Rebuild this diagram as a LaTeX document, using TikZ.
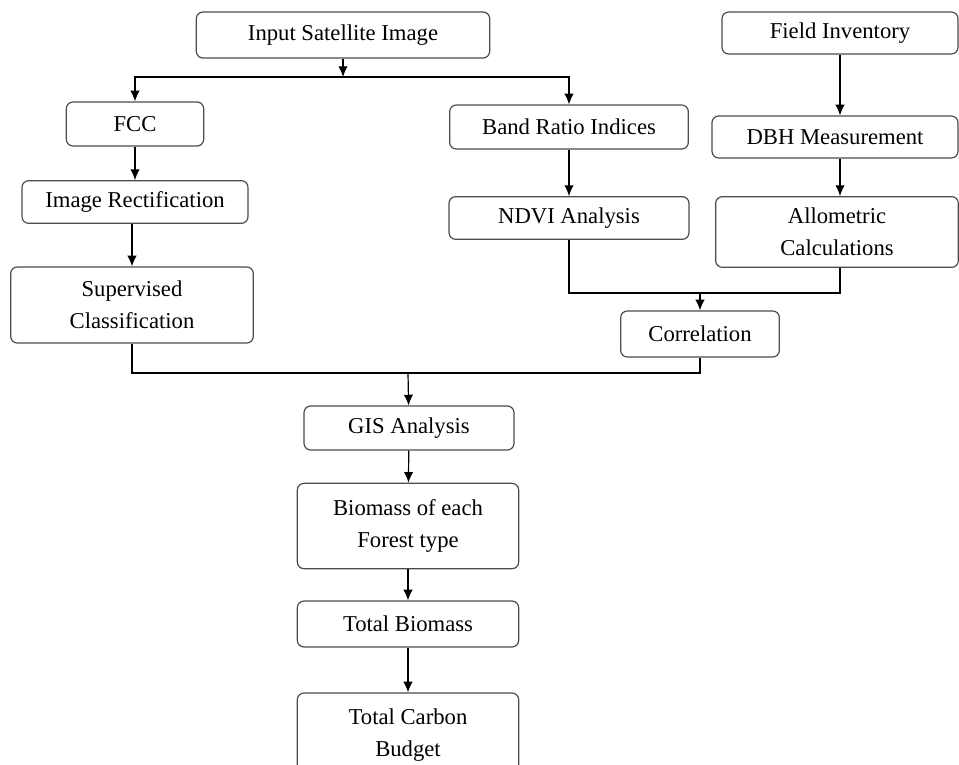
\documentclass[tikz,border=0pt]{standalone}
\usepackage{fontspec}
\setmainfont{Liberation Serif}
\usetikzlibrary{arrows,arrows.meta}
\usetikzlibrary{positioning}

\begin{document}
\begin{tikzpicture}
	[x=0.75pt,y=-0.75pt,every node/.style={rectangle,rounded corners=5pt,draw=black!70,line width=0.9pt,align=center,inner sep=0pt,font=\fontsize{17}{24}\selectfont},
	flow/.style={-{Latex[length=8pt,width=7pt]},line width=0.9pt},
	link/.style={line width=0.9pt}]
	\useasboundingbox (0,0) rectangle (959,764);
	% left column and top
	\node[minimum width=220pt,minimum height=34.5pt] (inp) at (343,35) {Input Satellite Image};
	\node[minimum width=103pt,minimum height=33pt] (fcc) at (135,124) {FCC};
	\node[minimum width=169.5pt,minimum height=32pt] (rect) at (135,202) {Image Rectification};
	\node[minimum width=182pt,minimum height=57pt] (sup) at (132,305) {Supervised\\Classification};
	% middle column
	\node[minimum width=179pt,minimum height=33pt] (band) at (569,127) {Band Ratio Indices};
	\node[minimum width=180pt,minimum height=32pt] (ndvi) at (569,218) {NDVI Analysis};
	% field data
	\node[minimum width=177pt,minimum height=31.5pt] (field) at (840,33) {Field Inventory};
	\node[minimum width=184.5pt,minimum height=31.5pt] (dbh) at (835,137) {DBH Measurement};
	\node[minimum width=182pt,minimum height=53pt] (allo) at (837,232) {Allometric\\Calculations};
	\node[minimum width=119pt,minimum height=34.5pt] (corr) at (700,334) {Correlation};
	% bottom column
	\node[minimum width=157.5pt,minimum height=33pt] (gis) at (409,428) {GIS Analysis};
	\node[minimum width=166pt,minimum height=64pt] (bio) at (408,526) {Biomass of each\\Forest type};
	\node[minimum width=166pt,minimum height=34.5pt] (tbio) at (408,624) {Total Biomass};
	\node[minimum width=166pt,minimum height=63pt] (tcb) at (408,735) {Total Carbon\\Budget};

	\coordinate (j1) at (343,77);
	\coordinate (j2) at (700,293);
	\coordinate (j3) at (408,373);

	\draw[flow] (inp) -- (j1);
	\draw[flow] (j1) -| (fcc);
	\draw[flow] (j1) -| (band);
	\draw[flow] (field) -- (field |- dbh.north);
	\draw[flow] (dbh.south -| field) -- (field |- allo.north);
	\draw[link] (ndvi) |- (j2);
	\draw[link] (allo.south -| field) |- (j2);
	\draw[flow] (j2) -- (corr);
	\draw[link] (sup) |- (j3);
	\draw[link] (corr) |- (j3);
	\draw[flow] (j3) -- (gis);

	\foreach \from/\to in
	{fcc/rect, band/ndvi, gis/bio, bio/tbio, tbio/tcb}
	\draw[flow] (\from) -- (\to);
	\draw[flow] (rect.south -| sup) -- (sup);
\end{tikzpicture}
\end{document}
